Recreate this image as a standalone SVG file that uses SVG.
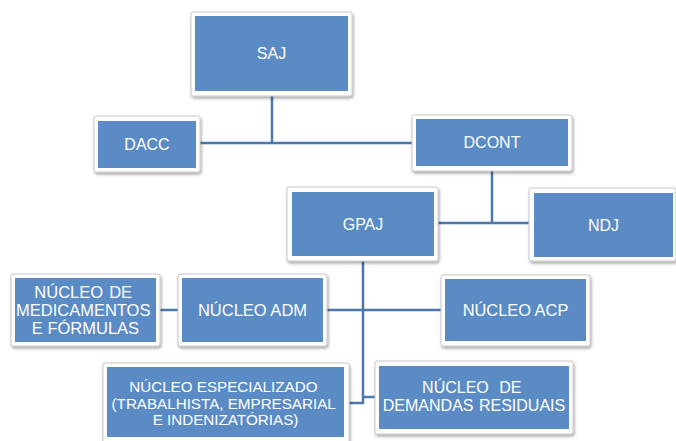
<svg xmlns="http://www.w3.org/2000/svg" width="676" height="441" viewBox="0 0 676 441">
  <defs>
    <filter id="sh" x="-10%" y="-10%" width="130%" height="140%">
      <feDropShadow dx="1" dy="2" stdDeviation="1.5" flood-color="#000" flood-opacity="0.35"/>
    </filter>
  </defs>
  <style>
    .frame { fill: #ffffff; stroke: #c8c8c8; stroke-width: 1; filter: url(#sh); }
    .box { fill: #5B8BC4; }
    .lbl { font-family: "Liberation Sans", Arial, sans-serif; font-size: 16px; fill: #ffffff; text-anchor: middle; }
    .conn { stroke: #4A78AD; stroke-width: 2.5; fill: none; }
  </style>
  <rect width="676" height="441" fill="#ffffff"/>

  <g id="connectors">
    <line class="conn" x1="272" y1="96" x2="272" y2="143"/>
    <line class="conn" x1="200" y1="143" x2="412" y2="143"/>
    <line class="conn" x1="492" y1="171" x2="492" y2="223"/>
    <line class="conn" x1="438" y1="223" x2="529" y2="223"/>
    <line class="conn" x1="363" y1="261" x2="363" y2="404"/>
    <line class="conn" x1="160" y1="310" x2="178" y2="310"/>
    <line class="conn" x1="327" y1="310" x2="441" y2="310"/>
    <line class="conn" x1="349" y1="403" x2="364" y2="403"/>
    <line class="conn" x1="363" y1="397" x2="375" y2="397"/>
  </g>

  <g id="saj">
    <rect class="frame" x="191" y="12" width="161" height="84" rx="2"/>
    <rect class="box" x="195" y="16" width="153" height="75"/>
    <text class="lbl" x="271.5" y="58.5">SAJ</text>
  </g>
  <g id="dacc">
    <rect class="frame" x="94" y="116" width="106" height="56" rx="2"/>
    <rect class="box" x="98" y="121" width="98" height="47"/>
    <text class="lbl" x="147" y="149.5">DACC</text>
  </g>
  <g id="dcont">
    <rect class="frame" x="412" y="115" width="160" height="56" rx="2"/>
    <rect class="box" x="416" y="119" width="152" height="47"/>
    <text class="lbl" x="492" y="148">DCONT</text>
  </g>
  <g id="gpaj">
    <rect class="frame" x="287" y="187" width="151" height="74" rx="2"/>
    <rect class="box" x="292" y="192" width="142" height="64"/>
    <text class="lbl" x="363" y="229.5">GPAJ</text>
  </g>
  <g id="ndj">
    <rect class="frame" x="529" y="188" width="147" height="73" rx="2"/>
    <rect class="box" x="534" y="193" width="139" height="64"/>
    <text class="lbl" x="603.5" y="230.5">NDJ</text>
  </g>
  <g id="nucleo-medicamentos">
    <rect class="frame" x="11" y="274" width="149" height="72" rx="2"/>
    <rect class="box" x="15" y="278" width="141" height="64"/>
    <text class="lbl" x="85.5" style="font-size:16.5px">
      <tspan x="85.5" y="298" word-spacing="1.5">NÚCLEO DE</tspan>
      <tspan x="85.5" y="316">MEDICAMENTOS</tspan>
      <tspan x="85.5" y="333.5">E FÓRMULAS</tspan>
    </text>
  </g>
  <g id="nucleo-adm">
    <rect class="frame" x="178" y="274" width="149" height="72" rx="2"/>
    <rect class="box" x="182" y="278" width="141" height="64"/>
    <text class="lbl" x="252.5" y="316" style="font-size:16.5px">NÚCLEO ADM</text>
  </g>
  <g id="nucleo-acp">
    <rect class="frame" x="441" y="275" width="149" height="71" rx="2"/>
    <rect class="box" x="445" y="279" width="141" height="62"/>
    <text class="lbl" x="515.5" y="316" style="font-size:16.4px">NÚCLEO ACP</text>
  </g>
  <g id="nucleo-especializado">
    <rect class="frame" x="103" y="363" width="246" height="82" rx="2"/>
    <rect class="box" x="107" y="367" width="237" height="70"/>
    <text class="lbl" x="225.5" style="font-size:15.2px">
      <tspan x="225.5" y="392">NÚCLEO ESPECIALIZADO</tspan>
      <tspan x="225.5" y="408.5">(TRABALHISTA, EMPRESARIAL</tspan>
      <tspan x="225.5" y="425">E INDENIZATÓRIAS)</tspan>
    </text>
  </g>
  <g id="nucleo-demandas">
    <rect class="frame" x="375" y="361" width="198" height="73" rx="2"/>
    <rect class="box" x="379" y="366" width="190" height="63"/>
    <text class="lbl" x="474">
      <tspan x="474" y="393" word-spacing="6">NÚCLEO DE</tspan>
      <tspan x="474" y="411" word-spacing="1">DEMANDAS RESIDUAIS</tspan>
    </text>
  </g>
</svg>
